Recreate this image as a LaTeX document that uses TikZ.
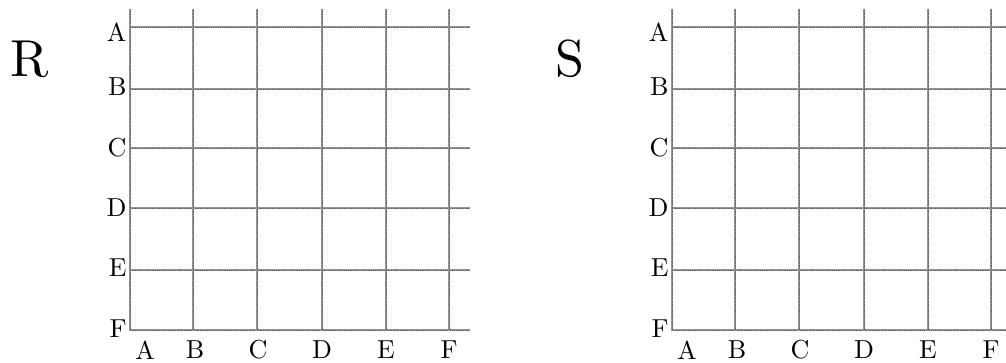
\documentclass[tikz,border=0pt]{standalone}
\begin{document}
\begin{tikzpicture}[x=1pt,y=-1pt,
  gl/.style={draw=black!42,line width=2.8pt},
  gd/.style={draw=black!62,line width=0.9pt,dash pattern=on 0.9pt off 0.9pt},
  lab/.style={inner sep=0pt,scale=2.6},
  big/.style={inner sep=0pt,scale=5.2}]
\useasboundingbox (0,0) rectangle (1006,363);
\foreach \ox/\nm/\rt in {0/R/470, 542/S/1012}{
  \begin{scope}[xshift=\ox]
  \foreach \yy in {27,89,148,208,270,330}{
    \draw[gl] (130,\yy) -- (\rt-\ox,\yy);
    \draw[gd] (130,\yy) -- (\rt-\ox,\yy);
  }
  \foreach \xx in {130,193,257,322,386,449}{
    \draw[gl] (\xx,9) -- (\xx,331);
    \draw[gd] (\xx,9) -- (\xx,331);
  }
  \foreach \l/\yy in {A/32,B/87,C/148,D/208,E/268,F/329}{
    \node[lab,anchor=east] (\nm row\l) at (127,\yy) {\l};
  }
  \foreach \l/\xx in {A/145,B/195,C/258,D/322,E/386,F/449}{
    \node[lab] (\nm col\l) at (\xx,350) {\l};
  }
  \end{scope}
}
\node[big] (titleR) at (30,59) {R};
\node[big] (titleS) at (570,59) {S};
\end{tikzpicture}
\end{document}
